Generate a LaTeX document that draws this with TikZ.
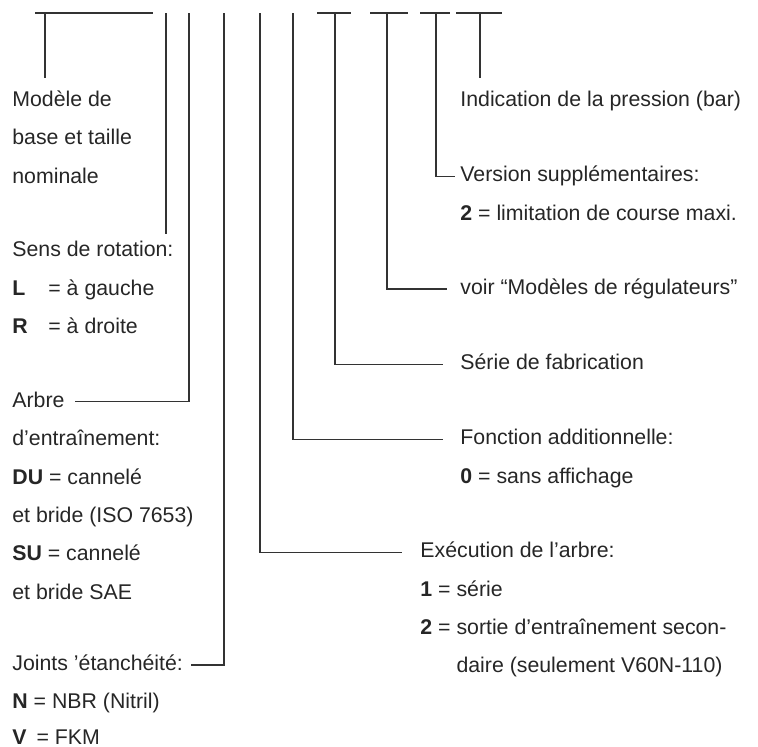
\documentclass[tikz,border=0pt]{standalone}
\usepackage{fontspec}
\setmainfont{Liberation Sans}
\usetikzlibrary{positioning}

\begin{document}
\begin{tikzpicture}[x=0.5pt, y=-0.5pt,
  txt/.style={anchor=west, inner sep=0pt, text height=12.15pt, text depth=6.65pt,
              font=\fontsize{10.65pt}{12pt}\selectfont, text=black!85},
  rowunder/.style={txt, below=0pt of #1.south west, anchor=north west},
  lead/.style={draw=black!80, line width=0.6pt},
]
  \useasboundingbox (0,0) rectangle (758,746);

  % type code bars
  \draw[lead] (35,13) -- (153,13);
  \draw[lead] (317,13) -- (351,13);
  \draw[lead] (370,13) -- (408,13);
  \draw[lead] (420,13) -- (450,13);
  \draw[lead] (456,13) -- (502,13);

  \coordinate (pA) at (45,13);
  \coordinate (pB) at (166,13);
  \coordinate (pC) at (189,13);
  \coordinate (pD) at (224,13);
  \coordinate (pE) at (260,13);
  \coordinate (pF) at (293,13);
  \coordinate (pG) at (335,13);
  \coordinate (pH) at (387,13);
  \coordinate (pI) at (436,13);
  \coordinate (pJ) at (480,13);

  % left column
  \node[txt] (modele) at (12,101) {Modèle de};
  \node[rowunder=modele] (base) {base et taille};
  \node[rowunder=base] (nominale) {nominale};
  \node[txt] (sens) at (12,251.4) {Sens de rotation:};
  \node[rowunder=sens] (gauche) {\makebox[18pt][l]{\textbf{L}}= à gauche};
  \node[rowunder=gauche] (droite) {\makebox[18pt][l]{\textbf{R}}= à droite};
  \node[txt] (arbre) at (12,401.8) {Arbre};
  \node[rowunder=arbre] (entr) {d’entraînement:};
  \node[rowunder=entr] (du) {\textbf{DU} = cannelé};
  \node[rowunder=du] (iso) {et bride (ISO 7653)};
  \node[rowunder=iso] (su) {\textbf{SU} = cannelé};
  \node[rowunder=su] (sae) {et bride SAE};
  \node[txt] (joints) at (12,665) {Joints ’étanchéité:};
  \node[rowunder=joints] (nbr) {\textbf{N} = NBR (Nitril)};
  \node[rowunder=nbr, yshift=1.5pt] (fkm) {\textbf{V}\kern2pt\ = FKM};

  % right column
  \node[txt] (pression) at (460,101) {Indication de la pression (bar)};
  \node[txt] (version) at (460,176.2) {Version supplémentaires:};
  \node[rowunder=version] (course) {\textbf{2} = limitation de course maxi.};
  \node[txt] (voir) at (460,289) {voir “Modèles de régulateurs”};
  \node[txt] (serie) at (460,364.2) {Série de fabrication};
  \node[txt] (fonction) at (460,439.4) {Fonction additionnelle:};
  \node[rowunder=fonction] (affich) {\textbf{0} = sans affichage};
  \node[txt] (exec) at (420,552.2) {Exécution de l’arbre:};
  \node[rowunder=exec] (serie1) {\textbf{1} = série};
  \node[rowunder=serie1] (sortie) {\textbf{2} = sortie d’entraînement secon-};
  \node[rowunder=sortie] (daire) {\hphantom{\textbf{2} = }daire (seulement V60N-110)};

  % leaders
  \draw[lead] (pA) -- ([yshift=2pt]pA |- modele.north);
  \draw[lead] (pB) -- ([yshift=-1pt]pB |- sens.north);
  \draw[lead] (pC) |- ([xshift=5pt]arbre.east);
  \draw[lead] (pD) |- ([xshift=4pt]joints.east);
  \draw[lead] (pE) |- ([xshift=-9pt]exec.west);
  \draw[lead] (pF) |- ([xshift=-8.5pt]fonction.west);
  \draw[lead] (pG) |- ([xshift=-8.5pt]serie.west);
  \draw[lead] (pH) |- ([xshift=-6.5pt]voir.west);
  \draw[lead] (pI) |- ([xshift=-2.5pt]version.west);
  \draw[lead] (pJ) -- ([yshift=2pt]pJ |- pression.north);
\end{tikzpicture}
\end{document}
